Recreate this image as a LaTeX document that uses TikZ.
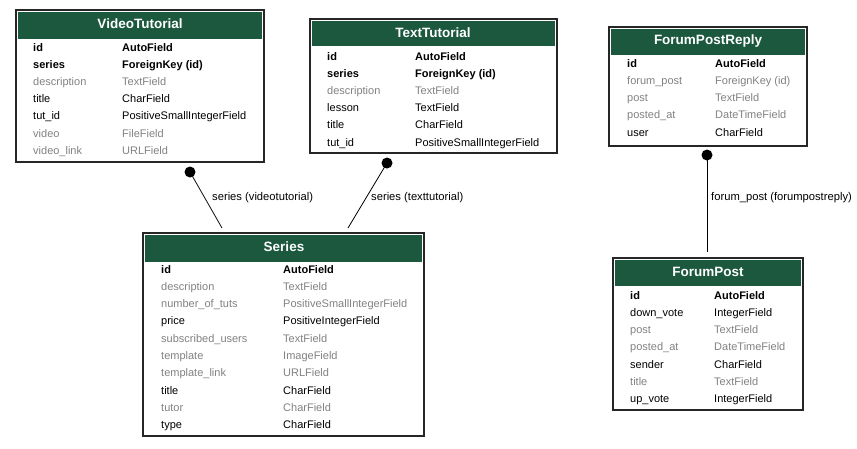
\documentclass[tikz,border=0pt]{standalone}
\usepackage{fontspec}
\setmainfont{Liberation Sans}
\definecolor{hdrgreen}{RGB}{27,88,62}
\definecolor{dimgray}{RGB}{130,130,130}

\begin{document}
\begin{tikzpicture}[x=1pt,y=-1pt,
  tbl/.style={draw=black!85,line width=1.3pt,fill=white},
  hdr/.style={fill=hdrgreen},
  ttl/.style={text=white,inner sep=0pt,font=\fontsize{13.5}{15}\selectfont\bfseries},
  key/.style={anchor=base west,inner sep=0pt,font=\fontsize{11}{13}\selectfont\bfseries},
  fld/.style={anchor=base west,inner sep=0pt,font=\fontsize{11}{13}\selectfont},
  dim/.style={fld,text=dimgray},
  rel/.style={line width=0.8pt},
  lbl/.style={anchor=base west,inner sep=0pt,font=\fontsize{11.2}{13}\selectfont}]

\useasboundingbox[fill=white] (0,0) rectangle (857,448);

% VideoTutorial
\draw [tbl] (16,10) rectangle (264,162);
\fill [hdr] (18,12) rectangle (262,39);
\node [ttl] (vt) at (140,24) {VideoTutorial};
\foreach \n/\t/\s [count=\i from 0] in {id/AutoField/key, series/ForeignKey (id)/key,
  description/TextField/dim, title/CharField/fld, tut\_id/PositiveSmallIntegerField/fld,
  video/FileField/dim, video\_link/URLField/dim}
{
  \node [\s] (vt-n\i) at (33,51+17.2*\i) {\n};
  \node [\s] (vt-t\i) at (122,51+17.2*\i) {\t};
}

% TextTutorial
\draw [tbl] (310,19) rectangle (557,153);
\fill [hdr] (312,21) rectangle (555,46);
\node [ttl] (tt) at (433,33) {TextTutorial};
\foreach \n/\t/\s [count=\i from 0] in {id/AutoField/key, series/ForeignKey (id)/key,
  description/TextField/dim, lesson/TextField/fld, title/CharField/fld,
  tut\_id/PositiveSmallIntegerField/fld}
{
  \node [\s] (tt-n\i) at (327,60+17.2*\i) {\n};
  \node [\s] (tt-t\i) at (415,60+17.2*\i) {\t};
}

% ForumPostReply
\draw [tbl] (609,27) rectangle (807,146);
\fill [hdr] (611,29) rectangle (805,55);
\node [ttl] (fr) at (708,41) {ForumPostReply};
\foreach \n/\t/\s [count=\i from 0] in {id/AutoField/key, forum\_post/ForeignKey (id)/dim,
  post/TextField/dim, posted\_at/DateTimeField/dim, user/CharField/fld}
{
  \node [\s] (fr-n\i) at (627,67+17.3*\i) {\n};
  \node [\s] (fr-t\i) at (715,67+17.3*\i) {\t};
}

% Series
\draw [tbl] (143,233) rectangle (424,436);
\fill [hdr] (145,235) rectangle (422,262);
\node [ttl] (se) at (284,247) {Series};
\foreach \n/\t/\s [count=\i from 0] in {id/AutoField/key, description/TextField/dim,
  number\_of\_tuts/PositiveSmallIntegerField/dim, price/PositiveIntegerField/fld,
  subscribed\_users/TextField/dim, template/ImageField/dim, template\_link/URLField/dim,
  title/CharField/fld, tutor/CharField/dim, type/CharField/fld}
{
  \node [\s] (se-n\i) at (161,273+17.3*\i) {\n};
  \node [\s] (se-t\i) at (283,273+17.3*\i) {\t};
}

% ForumPost
\draw [tbl] (613,258) rectangle (803,410);
\fill [hdr] (615,260) rectangle (801,286);
\node [ttl] (fp) at (708,272) {ForumPost};
\foreach \n/\t/\s [count=\i from 0] in {id/AutoField/key, down\_vote/IntegerField/fld,
  post/TextField/dim, posted\_at/DateTimeField/dim, sender/CharField/fld,
  title/TextField/dim, up\_vote/IntegerField/fld}
{
  \node [\s] (fp-n\i) at (630,299+17.3*\i) {\n};
  \node [\s] (fp-t\i) at (714,299+17.3*\i) {\t};
}

% relations
\coordinate (vt-dot) at (190,172);
\coordinate (se-in1) at (222,228);
\coordinate (tt-dot) at (387,163);
\coordinate (se-in2) at (348,228);
\coordinate (fr-dot) at (707,155);
\coordinate (fp-in) at (707,252);

\draw [rel] (vt-dot) -- (se-in1);
\draw [rel] (tt-dot) -- (se-in2);
\draw [rel] (fr-dot) -- (fp-in);
\fill (vt-dot) circle (5.5);
\fill (tt-dot) circle (5.5);
\fill (fr-dot) circle (5.5);

\node [lbl] (vt-lbl) at (212,200) {series (videotutorial)};
\node [lbl] (tt-lbl) at (371,200) {series (texttutorial)};
\node [lbl] (fr-lbl) at (711,200) {forum\_post (forumpostreply)};
\end{tikzpicture}
\end{document}
